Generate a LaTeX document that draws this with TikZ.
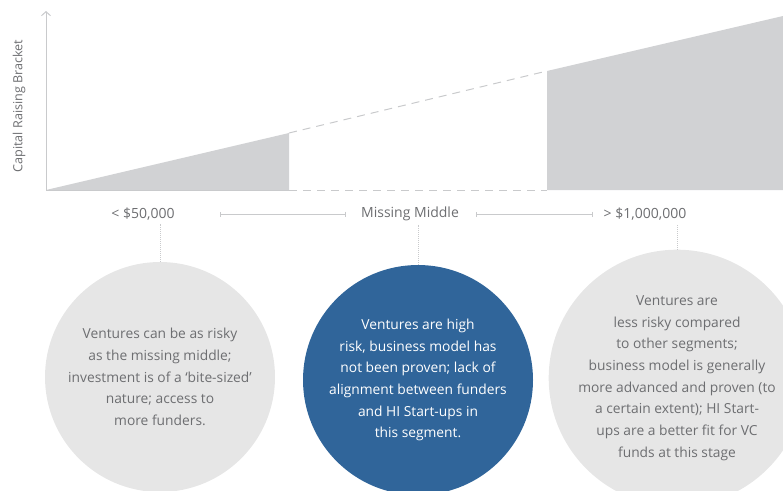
\documentclass[tikz,border=0pt]{standalone}
\usepackage{fontspec}
\setmainfont{Open Sans}
\usepackage{xcolor}
\usetikzlibrary{arrows.meta}
\definecolor{txtgray}{HTML}{6D6E71}
\definecolor{axisgray}{HTML}{C9CACC}
\definecolor{areagray}{HTML}{D1D2D4}
\definecolor{bubblegray}{HTML}{E6E6E6}
\definecolor{bubbleblue}{HTML}{30659A}
\tikzset{
  bubble/.style={circle, minimum size=230pt, inner sep=0pt, align=center,
    font=\fontsize{13.8}{21.7}\selectfont},
  seglabel/.style={text=txtgray, font=\fontsize{14}{16}\selectfont},
  spanline/.style={axisgray, line width=0.8pt, {Bar[width=5pt]}-{Bar[width=5pt]}},
  dotline/.style={axisgray, line width=0.6pt, dash pattern=on 0.8pt off 1.2pt},
  dashline/.style={axisgray, line width=1pt, dash pattern=on 8pt off 6pt}
}
\begin{document}
\begin{tikzpicture}[x=1pt, y=-1pt, line cap=butt, line join=round]
  \useasboundingbox (0,0) rectangle (783,490);
  % shaded brackets
  \fill[areagray] (46,190) -- (289,133) -- (289,190) -- cycle;
  \fill[areagray] (547,190) -- (547,71) -- (783,16) -- (783,190) -- cycle;
  \draw[dashline] (289,133) -- (547,71);
  \draw[dashline] (289,190) -- (547,190);
  % axes
  \draw[axisgray, line width=1pt, -{Straight Barb[length=4pt, width=9pt]}] (46,190) -- (46,11);
  \draw[axisgray, line width=1pt] (46,190) -- (289,190);
  \node[seglabel, font=\fontsize{12.6}{15}\selectfont, rotate=90] (yaxis) at (19,106) {Capital Raising Bracket};
  % segment labels
  \node[seglabel] (low) at (143,214) {< \$50,000};
  \node[seglabel] (mid) at (410,214) {Missing Middle};
  \node[seglabel] (high) at (645,214) {> \$1,000,000};
  \draw[spanline] ([xshift=42pt]low.east) -- ([xshift=-12pt]mid.west);
  \draw[spanline] ([xshift=14pt]mid.east) -- ([xshift=-7pt]high.west);
  % bubbles
  \node[bubble, fill=bubblegray, text=txtgray] (cLow) at (160,377)
    {Ventures can be as risky\\as the missing middle;\\investment is of a ‘bite-sized’\\nature; access to\\more funders.};
  \node[bubble, fill=bubbleblue, text=white] (cMid) at (418,380)
    {Ventures are high\\risk, business model has\\not been proven; lack of\\alignment between funders\\and HI Start-ups in\\this segment.};
  \node[bubble, fill=bubblegray, text=txtgray] (cHigh) at (677,378)
    {Ventures are\\less risky compared\\to other segments;\\business model is generally\\more advanced and proven (to\\a certain extent); HI Start-\\ups are a better fit for VC\\funds at this stage};
  \draw[dotline] (cLow.north) -- (cLow.north |- low.south);
  \draw[dotline] (cMid.north) -- (cMid.north |- mid.south);
  \draw[dotline] (cHigh.north) -- (cHigh.north |- high.south);
\end{tikzpicture}
\end{document}
